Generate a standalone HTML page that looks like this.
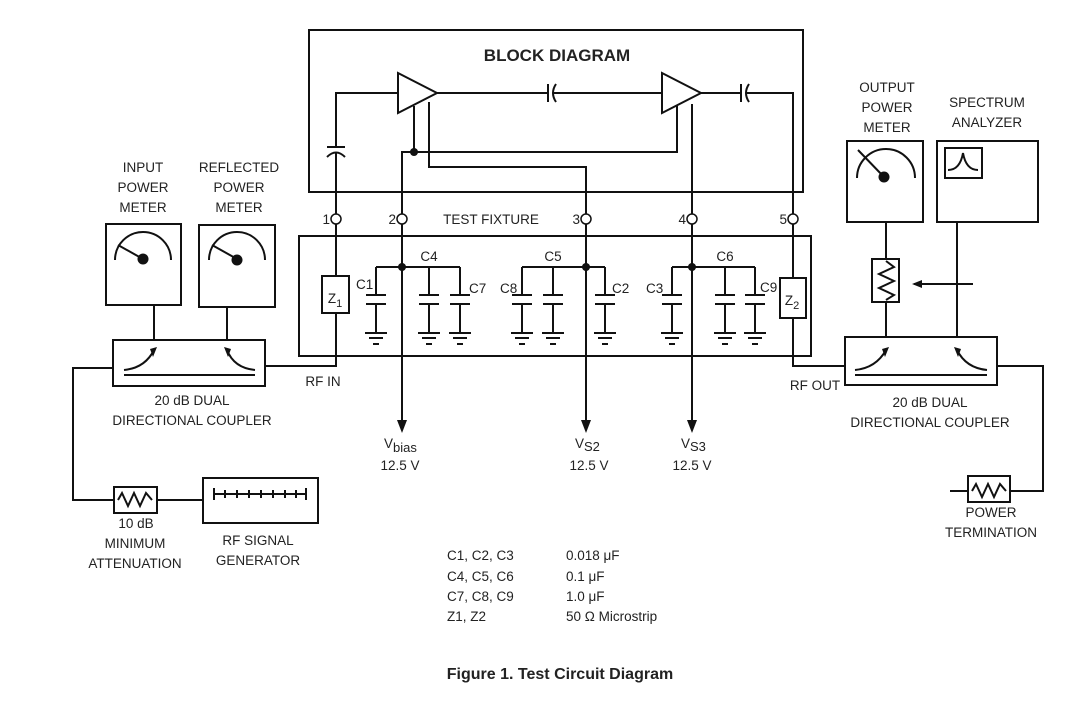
<!DOCTYPE html>
<html><head><meta charset="utf-8"><style>
body{margin:0;background:#fff}
svg{display:block}
text{font-family:"Liberation Sans",sans-serif;font-size:13.5px;fill:#222}
.c{text-anchor:middle}
.e{text-anchor:end}
</style></head><body>
<svg width="1071" height="704" viewBox="0 0 1071 704" xmlns="http://www.w3.org/2000/svg">
<g stroke="#111" stroke-width="2" fill="none">
<rect x="309" y="30" width="494" height="162"/>
<path d="M398,73 L437,93 L398,113 Z"/>
<path d="M662,73 L701,93 L662,113 Z"/>
<path d="M398,93 H336 V147"/>
<path d="M327,147 H345"/>
<path d="M327,157 Q336,148 345,157"/>
<path d="M336,152 V214"/>
<path d="M437,93 H548 M548,84 V102 M556,84 Q550,93 556,102 M553,93 H662"/>
<path d="M701,93 H741 M741,84 V102 M749,84 Q743,93 749,102 M746,93 H793 V214"/>
<path d="M414,106 V152 M402,214 V152 H677 V106"/>
<path d="M429,102 V167 H586 V214"/>
<path d="M692,104 V214"/>
<rect x="299" y="236" width="512" height="120"/>
<path d="M336,224 V276 M336,313 V366 H265"/>
<rect x="322" y="276" width="27" height="37"/>
<path d="M793,224 V278 M793,318 V366 H845"/>
<rect x="780" y="278" width="26" height="40"/>
<path d="M402,224 V424"/>
<path d="M586,224 V424"/>
<path d="M692,224 V424"/>
<path d="M376,267 H460 M522,267 H605 M672,267 H755"/>
<path d="M376,267V295M366,295H386M366,304H386M376,304V333M365,333H387M369,338H383M373,344H379"/>
<path d="M429,267V295M419,295H439M419,304H439M429,304V333M418,333H440M422,338H436M426,344H432"/>
<path d="M460,267V295M450,295H470M450,304H470M460,304V333M449,333H471M453,338H467M457,344H463"/>
<path d="M522,267V295M512,295H532M512,304H532M522,304V333M511,333H533M515,338H529M519,344H525"/>
<path d="M553,267V295M543,295H563M543,304H563M553,304V333M542,333H564M546,338H560M550,344H556"/>
<path d="M605,267V295M595,295H615M595,304H615M605,304V333M594,333H616M598,338H612M602,344H608"/>
<path d="M672,267V295M662,295H682M662,304H682M672,304V333M661,333H683M665,338H679M669,344H675"/>
<path d="M725,267V295M715,295H735M715,304H735M725,304V333M714,333H736M718,338H732M722,344H728"/>
<path d="M755,267V295M745,295H765M745,304H765M755,304V333M744,333H766M748,338H762M752,344H758"/>
<rect x="106" y="224" width="75" height="81"/>
<rect x="199" y="225" width="76" height="82"/>
<path d="M115,260 A28,28 0 0 1 171,260"/><path d="M118,245 L143,259"/>
<path d="M209,260 A28,28 0 0 1 265,260"/><path d="M212,245 L237,259"/>
<path d="M154,305 V340 M227,307 V340"/>
<rect x="113" y="340" width="152" height="46"/>
<path d="M124,375 H255"/>
<path d="M124,370 Q145,368 154,350"/><path d="M255,370 Q234,368 227,350"/>
<path d="M113,368 H73 V500 H114 M157,500 H203"/>
<rect x="114" y="487" width="43" height="26"/>
<path d="M118,500 L122,493 L128,506 L134,493 L140,506 L146,493 L152,500"/>
<rect x="203" y="478" width="115" height="45"/>
<path d="M214,494 H306 M214,488V500 M306,488V500 M225,490V498 M237,490V498 M249,490V498 M261,490V498 M273,490V498 M285,490V498 M296,490V498"/>
<rect x="847" y="141" width="76" height="81"/>
<path d="M857,178 A29,29 0 0 1 915,178"/><path d="M858,150 L884,177"/>
<rect x="937" y="141" width="101" height="81"/>
<rect x="945" y="148" width="37" height="30"/>
<path d="M948,170 Q960,170 963,153 Q966,170 978,170"/>
<path d="M886,222 V259 M886,302 V337"/>
<rect x="872" y="259" width="27" height="43"/>
<path d="M886,261 L894,267 L879,274 L894,281 L879,288 L894,295 L886,300"/>
<path d="M973,284 H914"/>
<path d="M957,222 V337"/>
<rect x="845" y="337" width="152" height="48"/>
<path d="M855,375 H987"/>
<path d="M855,370 Q876,368 886,350"/><path d="M987,370 Q966,368 957,350"/>
<path d="M997,366 H1043 V491 H1010 M968,491 H950"/>
<rect x="968" y="476" width="42" height="26"/>
<path d="M972,491 L976,484 L982,497 L988,484 L994,497 L1000,484 L1006,491"/>
</g>
<g stroke="#111" stroke-width="1.5" fill="#fff">
<circle cx="336" cy="219" r="5"/><circle cx="402" cy="219" r="5"/><circle cx="586" cy="219" r="5"/><circle cx="692" cy="219" r="5"/><circle cx="793" cy="219" r="5"/>
</g>
<g fill="#111">
<path d="M397,420 L407,420 L402,433 Z"/><path d="M581,420 L591,420 L586,433 Z"/><path d="M687,420 L697,420 L692,433 Z"/>
<path d="M150,349 L157,347 L153,357 Z"/><path d="M231,349 L224,347 L228,357 Z"/>
<path d="M882,349 L889,347 L885,357 Z"/><path d="M961,349 L954,347 L958,357 Z"/>
<path d="M912,284 L922,280 L922,288 Z"/>
<circle cx="414" cy="152" r="4"/><circle cx="402" cy="267" r="4"/><circle cx="586" cy="267" r="4"/><circle cx="692" cy="267" r="4"/>
<circle cx="143" cy="259" r="5.5"/><circle cx="237" cy="260" r="5.5"/><circle cx="884" cy="177" r="5.5"/>
</g>
<text x="557" y="61" class="c" style="font-weight:bold;font-size:17px">BLOCK DIAGRAM</text>
<text x="330" y="224" class="e">1</text><text x="396" y="224" class="e">2</text><text x="580" y="224" class="e">3</text><text x="686" y="224" class="e">4</text><text x="787" y="224" class="e">5</text>
<text x="491" y="224" class="c">TEST FIXTURE</text>
<text x="335" y="303" class="c">Z<tspan font-size="11" dy="4">1</tspan></text>
<text x="792" y="305" class="c">Z<tspan font-size="11" dy="4">2</tspan></text>
<text x="429" y="261" class="c">C4</text><text x="553" y="261" class="c">C5</text><text x="725" y="261" class="c">C6</text>
<text x="356" y="289">C1</text><text x="469" y="293">C7</text><text x="500" y="293">C8</text><text x="612" y="293">C2</text><text x="646" y="293">C3</text><text x="760" y="292">C9</text>
<text x="384" y="448">V<tspan font-size="13" dy="4">bias</tspan></text>
<text x="400" y="470" class="c">12.5 V</text>
<text x="575" y="448">V<tspan font-size="13" dy="3">S2</tspan></text>
<text x="589" y="470" class="c">12.5 V</text>
<text x="681" y="448">V<tspan font-size="13" dy="3">S3</tspan></text>
<text x="692" y="470" class="c">12.5 V</text>
<text x="143" y="172" class="c">INPUT</text><text x="143" y="192" class="c">POWER</text><text x="143" y="212" class="c">METER</text>
<text x="239" y="172" class="c">REFLECTED</text><text x="239" y="192" class="c">POWER</text><text x="239" y="212" class="c">METER</text>
<text x="323" y="386" class="c">RF IN</text>
<text x="192" y="405" class="c">20 dB DUAL</text><text x="192" y="425" class="c">DIRECTIONAL COUPLER</text>
<text x="136" y="528" class="c">10 dB</text><text x="135" y="548" class="c">MINIMUM</text><text x="135" y="568" class="c">ATTENUATION</text>
<text x="258" y="545" class="c">RF SIGNAL</text><text x="258" y="565" class="c">GENERATOR</text>
<text x="887" y="92" class="c">OUTPUT</text><text x="887" y="112" class="c">POWER</text><text x="887" y="132" class="c">METER</text>
<text x="987" y="107" class="c">SPECTRUM</text><text x="987" y="127" class="c">ANALYZER</text>
<text x="815" y="390" class="c">RF OUT</text>
<text x="930" y="407" class="c">20 dB DUAL</text><text x="930" y="427" class="c">DIRECTIONAL COUPLER</text>
<text x="991" y="517" class="c">POWER</text><text x="991" y="537" class="c">TERMINATION</text>
<text x="447" y="560">C1, C2, C3</text><text x="566" y="560">0.018 μF</text>
<text x="447" y="581">C4, C5, C6</text><text x="566" y="581">0.1 μF</text>
<text x="447" y="601">C7, C8, C9</text><text x="566" y="601">1.0 μF</text>
<text x="447" y="621">Z1, Z2</text><text x="566" y="621">50 Ω Microstrip</text>
<text x="560" y="679" class="c" style="font-weight:bold;font-size:16px">Figure 1. Test Circuit Diagram</text>
</svg>
</body></html>
